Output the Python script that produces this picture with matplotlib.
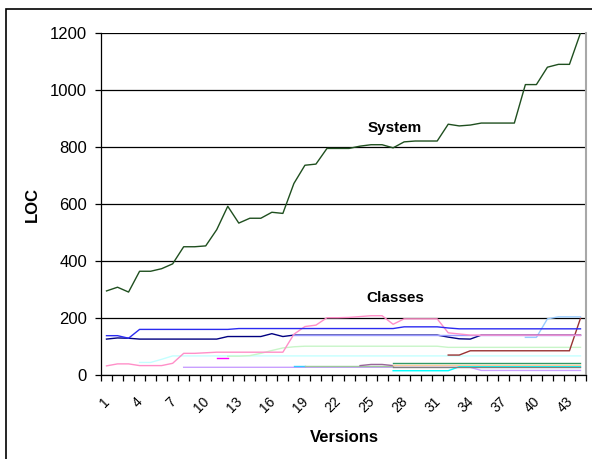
import matplotlib.pyplot as plt
from matplotlib.patches import Rectangle
from matplotlib.transforms import ScaledTranslation
import numpy as np

plt.rcParams['font.family'] = ['Liberation Sans', 'DejaVu Sans']

nan = np.nan
versions = np.arange(1, 45)

system = [295, 308, 291, 364, 364, 373, 390, 450, 450, 453,
          510, 592, 533, 550, 550, 571, 567, 672, 736, 740,
          795, 795, 795, 803, 808, 808, 797, 818, 821, 821,
          821, 880, 874, 877, 884, 884, 884, 884, 1019, 1019,
          1080, 1090, 1090, 1200]

# classes (one list per class, nan = class not present yet)
light_cyan = [nan] * 3 + [44, 44, 55] + [67] * 38
light_green = [nan] * 11 + [66, 66, 68, 76, 86, 95, 99] + [101] * 13 + [97] * 13
lavender = [nan] * 7 + [27] * 27 + [16] * 10
magenta = [nan] * 10 + [60, 60] + [nan] * 32
aqua = [nan] * 17 + [33, 33] + [nan] * 25
mint = [nan] * 18 + [33] * 9 + [nan] * 17
plum = [nan] * 23 + [33, 37, 37, 33] + [nan] * 17
tan = [nan] * 26 + [35] * 18
cyan = [nan] * 26 + [15] * 6 + [29] * 12
gray = [nan] * 26 + [29] * 18
teal = [nan] * 26 + [43] * 18
dark_red = [nan] * 31 + [70, 70] + [85] * 10 + [199]
pale_blue = [nan] * 38 + [132, 132, 197, 204, 204, 204]
pink = [32, 39, 39, 33, 33, 33, 41, 76, 76, 78,
        80, 80, 80, 80, 80, 80, 80, 143, 170, 175,
        201, 201, 202, 205, 208, 208, 178, 197, 197, 197,
        197, 148, 144] + [140] * 11
navy = [126, 130, 129] + [126] * 8 + [135] * 4 + [145, 135] + [140] * 14 + [133, 127, 126] + [140] * 10
lilac = [nan] * 17 + [141] * 27
blue = [138, 138, 129] + [160] * 9 + [163] * 15 + [169] * 4 + [165] + [162] * 12

class_lines = [
    (light_cyan, '#C4FFFF'),
    (light_green, '#C8F5C8'),
    (lavender, '#C9A0FF'),
    (magenta, '#FF00FF'),
    (aqua, '#33CCFF'),
    (mint, '#9CC79C'),
    (plum, '#996699'),
    (tan, '#FFCC99'),
    (cyan, '#00FFFF'),
    (gray, '#808080'),
    (teal, '#339966'),
    (dark_red, '#993333'),
    (pale_blue, '#99CCFF'),
    (navy, '#000080'),
    (lilac, '#9999FF'),
    (pink, '#FF8FC8'),
    (blue, '#2B2BF0'),
]

fig = plt.figure(figsize=(5.92, 4.59), dpi=100)
ax = fig.add_axes([101 / 592, 1 - 375 / 459, 485 / 592, 342 / 459])

x = versions - 0.5
for vals, color in class_lines:
    ax.plot(x, vals, color=color, lw=1.0)
ax.plot(x, system, color='#1F4F1F', lw=1.0)

ax.set_xlim(0, 44)
ax.set_ylim(0, 1200)
ax.set_yticks(range(0, 1201, 200))
ax.yaxis.grid(True, color='black', lw=0.9)
ax.set_axisbelow(True)

ax.set_xticks(np.arange(0, 45))
ax.set_xticklabels([])
ax.set_xticks(versions[::3] - 0.5, minor=True)
ax.set_xticklabels([str(v) for v in versions[::3]], minor=True,
                   rotation=45, ha='right', rotation_mode='anchor', fontsize=10)
ax.tick_params(axis='x', which='major', length=4, width=0.9, direction='out')
ax.tick_params(axis='x', which='minor', length=0, pad=14)
ax.tick_params(axis='y', length=4, width=0.9, labelsize=12, pad=6)
for lab in ax.get_xticklabels(minor=True):
    lab.set_transform(lab.get_transform() + ScaledTranslation(-0.04, 0, fig.dpi_scale_trans))

ax.spines['top'].set_visible(False)
ax.spines['right'].set_color('#A8A8A8')
ax.spines['right'].set_linewidth(1.5)
ax.spines['left'].set_linewidth(0.9)
ax.spines['bottom'].set_linewidth(0.9)

ax.text(26.63, 867, 'System', fontsize=11, fontweight='bold', ha='center', va='center')
ax.text(26.7, 270, 'Classes', fontsize=11, fontweight='bold', ha='center', va='center')

fig.text(32 / 592, 1 - 204 / 459, 'LOC', rotation=90, fontsize=12, fontweight='bold',
         ha='center', va='center')
fig.text(344 / 592, 1 - 437 / 459, 'Versions', fontsize=12, fontweight='bold',
         ha='center', va='center')

fig.add_artist(Rectangle((6 / 592, -0.1), 2, 1 - 9 / 459 + 0.1, transform=fig.transFigure,
                         fill=False, ec='black', lw=1.2))

fig.savefig('out.png', dpi=100)
